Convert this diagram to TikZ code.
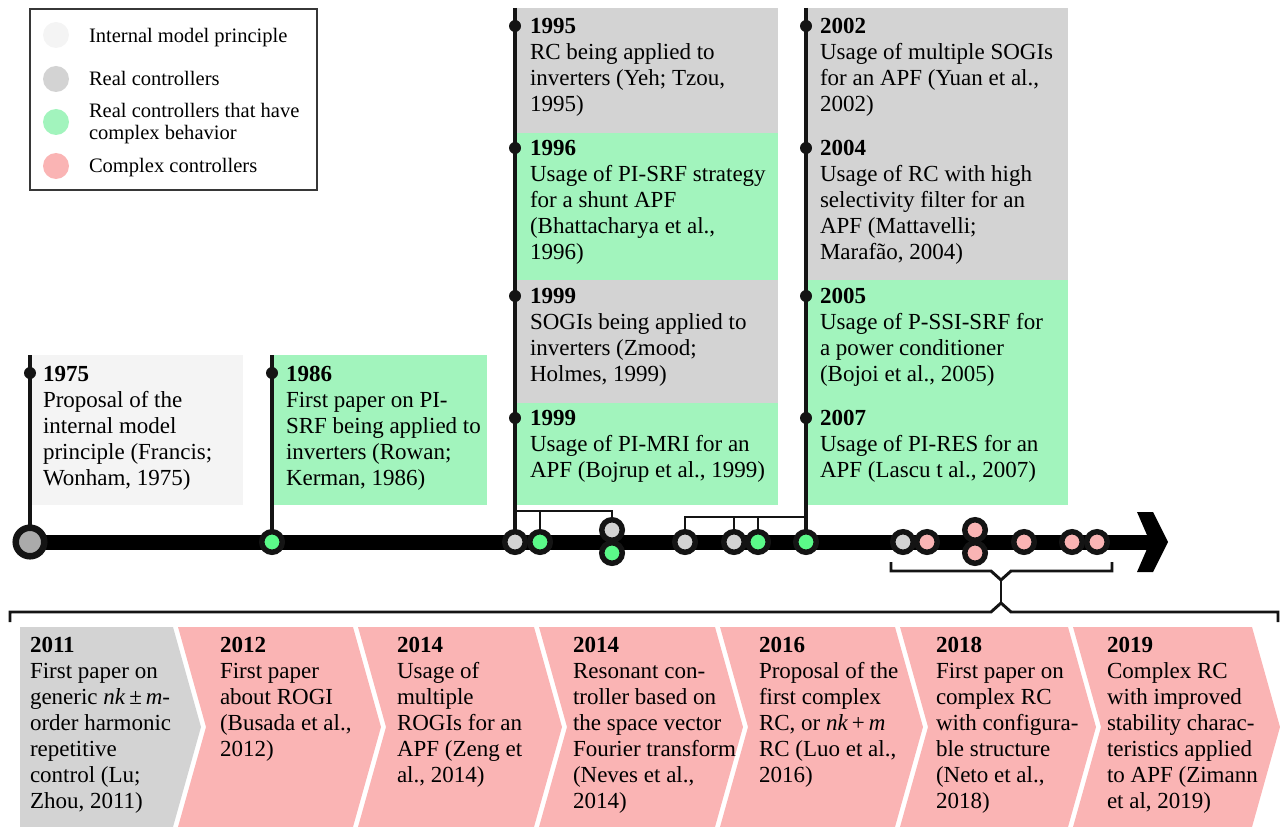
\documentclass[tikz,border=0pt]{standalone}
\usepackage{fontspec}
\setmainfont{Liberation Serif}
\usepackage{tikz}
\usepackage{xcolor}
\definecolor{tlIntern}{HTML}{F4F4F4}
\definecolor{tlReal}{HTML}{D3D3D3}
\definecolor{tlMixed}{HTML}{A2F4BD}
\definecolor{tlCplx}{HTML}{FAB4B4}
\definecolor{tlGreen}{HTML}{5BFA89}
\definecolor{tlMid}{HTML}{ABABAB}
\definecolor{tlInk}{HTML}{141414}
\pgfdeclarelayer{back}
\pgfsetlayers{back,main}

\begin{document}
\begin{tikzpicture}[
    x=0.75pt, y=-0.75pt,
    every node/.style={inner sep=0pt, outer sep=0pt},
    txt/.style={anchor=north west, align=left, font=\fontsize{17.25}{19.5}\selectfont},
    legtxt/.style={anchor=base west, align=left, font=\fontsize{15.4}{16.6}\selectfont},
    legdot/.style={circle, minimum size=19.5pt},
    dot/.style={circle, draw=tlInk, line width=4.1pt, minimum size=15.4pt},
    bigdot/.style={circle, draw=tlInk, line width=4.9pt, minimum size=21.4pt, fill=tlMid},
    pin/.style={circle, fill=tlInk, minimum size=9pt},
    stem/.style={draw=tlInk, line width=2.6pt},
    brace/.style={draw=tlInk, line width=2.2pt},
    bar/.style={draw=black, line width=11.25pt}
  ]
    \useasboundingbox (0,0) rectangle (1280,827);

    % legend
    \draw[tlInk!85, line width=1.1pt] (30,9) rectangle (317,190);
    \node[legdot, fill=tlIntern] (lg1) at (56,35) {};
    \node[legdot, fill=tlReal] (lg2) at (56,79) {};
    \node[legdot, fill=tlMixed] (lg3) at (56,122) {};
    \node[legdot, fill=tlCplx] (lg4) at (56,166) {};
    \node[legtxt] (lt1) at (89,42.5) {Internal model principle};
    \node[legtxt] (lt2) at (89,86) {Real controllers};
    \node[legtxt, anchor=north west] (lt3) at (89,103) {Real controllers that have\\complex behavior};
    \node[legtxt] (lt4) at (89,173) {Complex controllers};

    % stem tops and brace points
    \coordinate (t1975) at (30,355);
    \coordinate (t1986) at (272,355);
    \coordinate (t1995) at (515,8);
    \coordinate (t2002) at (806,8);
    \coordinate (k1995) at (515,511);
    \coordinate (k2002) at (806,517);
    \coordinate (u1) at (891,562);
    \coordinate (u2) at (1112,562);
    \coordinate (uMid) at (1001,580);
    \coordinate (lMid) at (1001,603);
    \coordinate (l1) at (10,622);
    \coordinate (l2) at (1278,622);
    \coordinate (head) at (1168,542);

    % timeline dots
    \node[bigdot] (d1975) at (30,542) {};
    \node[dot, fill=tlGreen] (d1986) at (272,542) {};
    \node[dot, fill=tlReal] (d1995) at (515,542) {};
    \node[dot, fill=tlGreen] (d1996) at (540,542) {};
    \node[dot, fill=tlReal] (d1999a) at (612,530) {};
    \node[dot, fill=tlGreen] (d1999b) at (612,553) {};
    \node[dot, fill=tlReal] (d2002) at (685,542) {};
    \node[dot, fill=tlReal] (d2004) at (734,542) {};
    \node[dot, fill=tlGreen] (d2005) at (758,542) {};
    \node[dot, fill=tlGreen] (d2007) at (806,542) {};
    \node[dot, fill=tlReal] (d2011) at (903,542) {};
    \node[dot, fill=tlCplx] (d2012) at (927,542) {};
    \node[dot, fill=tlCplx] (d2014a) at (975,530) {};
    \node[dot, fill=tlCplx] (d2014b) at (975,553) {};
    \node[dot, fill=tlCplx] (d2016) at (1024,542) {};
    \node[dot, fill=tlCplx] (d2018) at (1072,542) {};
    \node[dot, fill=tlCplx] (d2019) at (1097,542) {};

    \begin{pgfonlayer}{back}
    % event boxes
    \fill[tlIntern] (30,355) rectangle (243,505);
    \fill[tlMixed] (272,355) rectangle (487,505);
    \fill[tlReal] (515,8) rectangle (778,133);
    \fill[tlMixed] (515,133) rectangle (778,280);
    \fill[tlReal] (515,280) rectangle (778,403);
    \fill[tlMixed] (515,403) rectangle (778,505);
    \fill[tlReal] (806,8) rectangle (1068,280);
    \fill[tlMixed] (806,280) rectangle (1068,505);

    % bottom cells
    \fill[tlReal] (20,627) -- (173,627) -- (201,727) -- (173,827) -- (20,827) -- cycle;
    \fill[tlCplx] (178,627) -- (353,627) -- (381,727) -- (353,827) -- (178,827) -- (206,727) -- cycle;
    \fill[tlCplx] (358,627) -- (534,627) -- (562,727) -- (534,827) -- (358,827) -- (386,727) -- cycle;
    \fill[tlCplx] (539,627) -- (715,627) -- (743,727) -- (715,827) -- (539,827) -- (567,727) -- cycle;
    \fill[tlCplx] (720,627) -- (895,627) -- (923,727) -- (895,827) -- (720,827) -- (748,727) -- cycle;
    \fill[tlCplx] (900,627) -- (1068,627) -- (1096,727) -- (1068,827) -- (900,827) -- (928,727) -- cycle;
    \fill[tlCplx] (1073,627) -- (1252,627) -- (1280,727) -- (1252,827) -- (1073,827) -- (1101,727) -- cycle;

    % stems and braces
    \draw[stem] (t1975) -- (d1975.center);
    \draw[stem] (t1986) -- (d1986.center);
    \draw[stem] (t1995) -- (d1995.center);
    \draw[stem] (t2002) -- (d2007.center);
    \draw[brace] (k1995) -| (d1999a.center);
    \draw[brace] (d1996.center) -- (d1996.center |- k1995);
    \draw[brace] (d2002.center) |- (k2002);
    \draw[brace] (d2004.center) -- (d2004.center |- k2002);
    \draw[brace] (d2005.center) -- (d2005.center |- k2002);
    \draw[brace] (u1) |- (991,571) -- (uMid) -- (1011,571) -| (u2);
    \draw[brace] (uMid) -- (lMid);
    \draw[brace] (l1) |- (991,612) -- (lMid) -- (1011,612) -| (l2);

    % axis and head
    \draw[bar] (d1975.center) -- (1150,542);
    \fill[black] (1137,512) -- (1153,512) -- (head) -- (1153,572) -- (1137,572) -- (1150,542) -- cycle;
    \end{pgfonlayer}

    % pins on the stems
    \node[pin] (s1975) at (30,373) {};
    \node[pin] (s1986) at (272,373) {};
    \node[pin] (s1995) at (515,26) {};
    \node[pin] (s1996) at (515,148) {};
    \node[pin] (s1999a) at (515,296) {};
    \node[pin] (s1999b) at (515,418) {};
    \node[pin] (s2002) at (806,26) {};
    \node[pin] (s2004) at (806,148) {};
    \node[pin] (s2005) at (806,296) {};
    \node[pin] (s2007) at (806,418) {};

    % event texts
    \node[txt] (n1975) at (43,366) {\textbf{1975}\\Proposal of the\\internal model\\principle (Francis;\\Wonham, 1975)};
    \node[txt] (n1986) at (286,366) {\textbf{1986}\\First paper on PI-\\SRF being applied to\\inverters (Rowan;\\Kerman, 1986)};
    \node[txt] (n1995) at (530,18) {\textbf{1995}\\RC being applied to\\inverters (Yeh; Tzou,\\1995)};
    \node[txt] (n1996) at (530,140) {\textbf{1996}\\Usage of PI-SRF strategy\\for a shunt APF\\(Bhattacharya et al.,\\1996)};
    \node[txt] (n1999a) at (530,288) {\textbf{1999}\\SOGIs being applied to\\inverters (Zmood;\\Holmes, 1999)};
    \node[txt] (n1999b) at (530,410) {\textbf{1999}\\Usage of PI-MRI for an\\APF (Bojrup et al., 1999)};
    \node[txt] (n2002) at (820,18) {\textbf{2002}\\Usage of multiple SOGIs\\for an APF (Yuan et al.,\\2002)};
    \node[txt] (n2004) at (820,140) {\textbf{2004}\\Usage of RC with high\\selectivity filter for an\\APF (Mattavelli;\\Marafão, 2004)};
    \node[txt] (n2005) at (820,288) {\textbf{2005}\\Usage of P-SSI-SRF for\\a power conditioner\\(Bojoi et al., 2005)};
    \node[txt] (n2007) at (820,410) {\textbf{2007}\\Usage of PI-RES for an\\APF (Lascu t al., 2007)};

    \node[txt] (n2011) at (30,637) {\textbf{2011}\\First paper on\\generic \textit{nk}\,±\,\textit{m}-\\order harmonic\\repetitive\\control (Lu;\\Zhou, 2011)};
    \node[txt] (n2012) at (220,637) {\textbf{2012}\\First paper\\about ROGI\\(Busada et al.,\\2012)};
    \node[txt] (n2014a) at (397,637) {\textbf{2014}\\Usage of\\multiple\\ROGIs for an\\APF (Zeng et\\al., 2014)};
    \node[txt] (n2014b) at (573,637) {\textbf{2014}\\Resonant con-\\troller based on\\the space vector\\Fourier transform\\(Neves et al.,\\2014)};
    \node[txt] (n2016) at (759,637) {\textbf{2016}\\Proposal of the\\first complex\\RC, or \textit{nk}\,+\,\textit{m}\\RC (Luo et al.,\\2016)};
    \node[txt] (n2018) at (936,637) {\textbf{2018}\\First paper on\\complex RC\\with configura-\\ble structure\\(Neto et al.,\\2018)};
    \node[txt] (n2019) at (1107,637) {\textbf{2019}\\Complex RC\\with improved\\stability charac-\\teristics applied\\to APF (Zimann\\et al, 2019)};
  \end{tikzpicture}
\end{document}
